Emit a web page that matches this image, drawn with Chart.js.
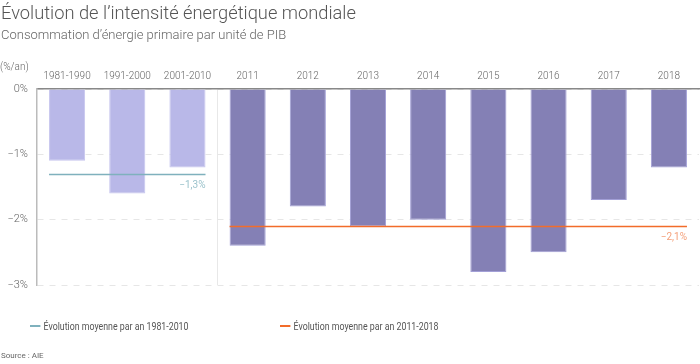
<!DOCTYPE html>
<html lang="fr">
<head>
<meta charset="utf-8">
<script src="https://cdn.jsdelivr.net/npm/chart.js@4/dist/chart.umd.min.js"></script>
<style>
    body { margin: 0; background: #fff; font-family: Roboto, sans-serif; }
    #wrap { position: relative; width: 700px; height: 364px; overflow: hidden; }
    #chart { position: absolute; left: 0; top: 0; }
    .txt { position: absolute; white-space: nowrap; }
    #title { left: 1px; top: 2px; font-size: 18.3px; color: #555; font-weight: 300; }
    #subtitle { left: 1px; top: 27px; font-size: 13px; color: #666; font-weight: 300; }
    #unit { left: 0px; top: 61px; font-size: 10px; color: #666; font-weight: 300; }
    .leg { top: 320px; font-size: 11px; color: #555; transform: scaleX(0.8); transform-origin: left center; }
    .leg span { display: inline-block; width: 13px; height: 2px; vertical-align: middle; margin-right: 4px; position: relative; top: -1px; }
    #source { left: 1px; top: 351px; font-size: 8px; color: #666; }
</style>
</head>
<body>
<div id="wrap">
    <canvas id="chart" width="700" height="364"></canvas>
    <div class="txt" id="title">Évolution de l’intensité énergétique mondiale</div>
    <div class="txt" id="subtitle">Consommation d’énergie primaire par unité de PIB</div>
    <div class="txt" id="unit">(%/an)</div>
    <div class="txt leg" style="left:30px"><span style="background:#7fb1bd"></span>Évolution moyenne par an 1981-2010</div>
    <div class="txt leg" style="left:280px"><span style="background:#f26c2a"></span>Évolution moyenne par an 2011-2018</div>
    <div class="txt" id="source">Source : AIE</div>
</div>
<script>
const categories = ["1981-1990", "1991-2000", "2001-2010", "2011", "2012", "2013", "2014", "2015", "2016", "2017", "2018"];
const values = [-1.1, -1.6, -1.2, -2.4, -1.8, -2.1, -2.0, -2.8, -2.5, -1.7, -1.2];
const yTicks = [0, -1, -2, -3];
// moyennes : [valeur, premier index, dernier index]
const averages = [
    {value: -1.3, from: 0, to: 2, label: "−1,3%", color: "#7fb1bd", text: "#9cc3cc"},
    {value: -2.1, from: 3, to: 10, label: "−2,1%", color: "#f26c2a", text: "#f4a07a"}
];

const fmt = v => (v < 0 ? "−" : "") + Math.abs(v) + "%";

const avgLines = {
    id: "avgLines",
    afterDatasetsDraw(chart) {
        const ctx = chart.ctx;
        const bars = chart.getDatasetMeta(0).data;
        const y = chart.scales.y;
        averages.forEach(a => {
            const x0 = bars[a.from].x - bars[a.from].width / 2;
            const x1 = bars[a.to].x + bars[a.to].width / 2;
            const py = Math.round(y.getPixelForValue(a.value)) + 0.5;
            ctx.save();
            ctx.strokeStyle = a.color;
            ctx.lineWidth = 1.5;
            ctx.beginPath();
            ctx.moveTo(x0, py);
            ctx.lineTo(x1, py);
            ctx.stroke();
            ctx.fillStyle = a.text;
            ctx.font = "10px Roboto";
            ctx.textAlign = "right";
            ctx.textBaseline = "middle";
            ctx.fillText(a.label, x1, py + 11);
            ctx.restore();
        });
    }
};

new Chart(document.getElementById("chart"), {
    type: "bar",
    data: {
        labels: categories,
        datasets: [{
            data: values,
            backgroundColor: values.map((v, i) => i < 3 ? "#b9b8e8" : "#8480b5"),
            borderColor: values.map((v, i) => i < 3 ? "#c6c5ee" : "#a29fd6"),
            borderWidth: 1,
            borderSkipped: "start",
            categoryPercentage: 1,
            barPercentage: 0.6
        }]
    },
    options: {
        responsive: false,
        animation: false,
        layout: { padding: { top: 62, bottom: 79, left: 0, right: 1 } },
        plugins: { legend: { display: false }, tooltip: { enabled: false } },
        scales: {
            x: {
                position: "top",
                grid: {
                    offset: true,
                    drawTicks: false,
                    color: c => c.index === 3 ? "#e8e8e8" : "rgba(0,0,0,0)"
                },
                border: { color: "#888", width: 1.5 },
                ticks: { color: "#666", font: { family: "Roboto", size: 10, weight: 300 }, padding: 7 },
                afterFit: s => { s.height = 27; }
            },
            y: {
                min: -3,
                max: 0,
                afterBuildTicks: s => { s.ticks = yTicks.map(v => ({value: v})); },
                grid: { color: "#e6e6e6", drawTicks: false },
                border: { color: "#bbb", width: 1.5, dash: [6, 6] },
                ticks: {
                    color: "#666",
                    font: { family: "Roboto", size: 11, weight: 300 },
                    padding: 9,
                    callback: v => fmt(v)
                },
                afterFit: s => { s.width = 37; }
            }
        }
    },
    plugins: [avgLines]
});
</script>
</body>
</html>
